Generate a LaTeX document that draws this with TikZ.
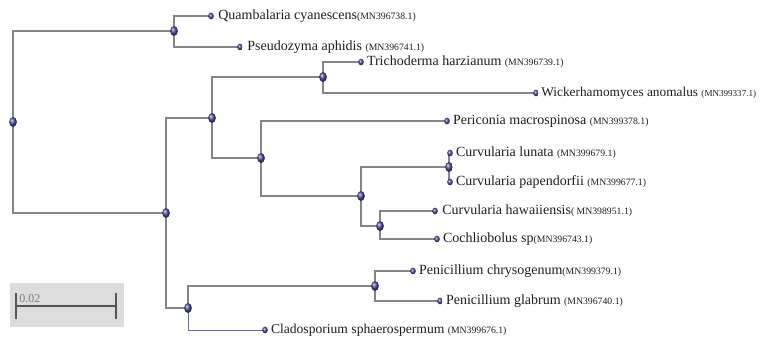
\documentclass[tikz,border=0pt]{standalone}
\usepackage{fontspec}
\setmainfont{Liberation Serif}
\usepackage{xcolor}
\usetikzlibrary{positioning,shapes.geometric,backgrounds,arrows.meta}

\definecolor{branchgray}{HTML}{858585}
\definecolor{dotblue}{HTML}{4B4BA0}
\definecolor{labelink}{HTML}{1E1E1E}
\definecolor{barbox}{HTML}{DCDCDC}
\definecolor{bargray}{HTML}{555555}
\newcommand\accno[1]{{\fontsize{7.3}{8}\selectfont(#1)}}

\begin{document}
\begin{tikzpicture}[
x=0.75pt,y=-0.75pt,
every node/.style={font=\fontsize{10.5}{12}\selectfont},
inner/.style={ellipse,shading=ball,ball color=dotblue,minimum width=5.8pt,minimum height=7.4pt,inner sep=0pt},
leaf/.style={ellipse,shading=ball,ball color=dotblue,minimum width=4.2pt,minimum height=5pt,inner sep=0pt},
taxon/.style={text=labelink,inner sep=1pt},
branch/.style={draw=branchgray,line width=1.1pt}
]
\useasboundingbox (0,0) rectangle (765,341);

% Internal nodes
\node[inner] (root) at (13,122) {};
\node[inner] (nA) at (174,31) {};
\node[inner] (nB) at (166,213) {};
\node[inner] (nC) at (212,118) {};
\node[inner] (nD) at (323,77) {};
\node[inner] (nE) at (261,158) {};
\node[inner] (nF) at (361,196) {};
\node[inner] (nG) at (449,167) {};
\node[inner] (nH) at (380,226) {};
\node[inner] (nJ) at (188,308) {};
\node[inner] (nI) at (375,286) {};

% Leaves
\node[leaf] (quamb) at (211,16) {};
\node[leaf] (pseud) at (240,47) {};
\node[leaf] (trich) at (361,62) {};
\node[leaf] (wick) at (536,93) {};
\node[leaf] (peric) at (447,121) {};
\node[leaf] (lunata) at (450,153) {};
\node[leaf] (papend) at (450,182) {};
\node[leaf] (hawaii) at (435,211) {};
\node[leaf] (cochl) at (437,239) {};
\node[leaf] (chrys) at (413,271) {};
\node[leaf] (glab) at (440,301) {};
\node[leaf] (clado) at (265,330) {};

% Taxon labels
\node[taxon,right=2pt of quamb] (quambT) {Quambalaria cyanescens\accno{MN396738.1}};
\node[taxon,right=2pt of pseud] (pseudT) {Pseudozyma aphidis \accno{MN396741.1}};
\node[taxon,right=1pt of trich] (trichT) {Trichoderma harzianum \accno{MN396739.1}};
\node[taxon,right=0.5pt of wick,font=\fontsize{10}{12}\selectfont] (wickT) {Wickerhamomyces anomalus {\fontsize{6.8}{8}\selectfont(MN399337.1)}};
\node[taxon,right=1pt of peric] (pericT) {Periconia macrospinosa \accno{MN399378.1}};
\node[taxon,right=1pt of lunata] (lunataT) {Curvularia lunata \accno{MN399679.1}};
\node[taxon,right=1pt of papend] (papendT) {Curvularia papendorfii \accno{MN399677.1}};
\node[taxon,right=2pt of hawaii] (hawaiiT) {Curvularia hawaiiensis\accno{ MN398951.1}};
\node[taxon,right=1pt of cochl] (cochlT) {Cochliobolus sp\accno{MN396743.1}};
\node[taxon,right=1pt of chrys] (chrysT) {Penicillium chrysogenum\accno{MN399379.1}};
\node[taxon,right=1pt of glab] (glabT) {Penicillium glabrum \accno{MN396740.1}};
\node[taxon,right=1pt of clado,font=\fontsize{10.2}{12}\selectfont] (cladoT) {Cladosporium sphaerospermum \accno{MN399676.1}};

\begin{scope}[on background layer]
\fill[white] (0,0) rectangle (765,341);

% Branches
\draw[branch] (root.center) |- (nA.center);
\draw[branch] (root.center) |- (nB.center);
\draw[branch] (nA.center) |- (quamb.center);
\draw[branch] (nA.center) |- (pseud.center);
\draw[branch] (nB.center) |- (nC.center);
\draw[branch] (nB.center) |- (nJ.center);
\draw[branch] (nC.center) |- (nD.center);
\draw[branch] (nC.center) |- (nE.center);
\draw[branch] (nD.center) |- (trich.center);
\draw[branch] (nD.center) |- (wick.center);
\draw[branch] (nE.center) |- (peric.center);
\draw[branch] (nE.center) |- (nF.center);
\draw[branch] (nF.center) |- (nG.center);
\draw[branch] (nF.center) |- (nH.center);
\draw[branch] (nG.center) |- (lunata.center);
\draw[branch] (nG.center) |- (papend.center);
\draw[branch] (nH.center) |- (hawaii.center);
\draw[branch] (nH.center) |- (cochl.center);
\draw[branch] (nJ.center) |- (nI.center);
\draw[branch,draw=branchgray!60!dotblue,line width=0.7pt] (nJ.center) |- (clado.center);
\draw[branch] (nI.center) |- (chrys.center);
\draw[branch] (nI.center) |- (glab.center);
\end{scope}

% Scale bar
\fill[barbox] (10,283) rectangle (124,327);
\coordinate (sbL) at (15,306);
\coordinate (sbR) at (117,306);
\draw[bargray,line width=1.5pt,{Bar[width=20pt]}-{Bar[width=20pt]}] (sbL) -- (sbR);
\node[text=gray,font=\fontsize{9}{10}\selectfont,anchor=south west,inner sep=0pt] (sbT) at (19,303) {0.02};

\end{tikzpicture}
\end{document}
